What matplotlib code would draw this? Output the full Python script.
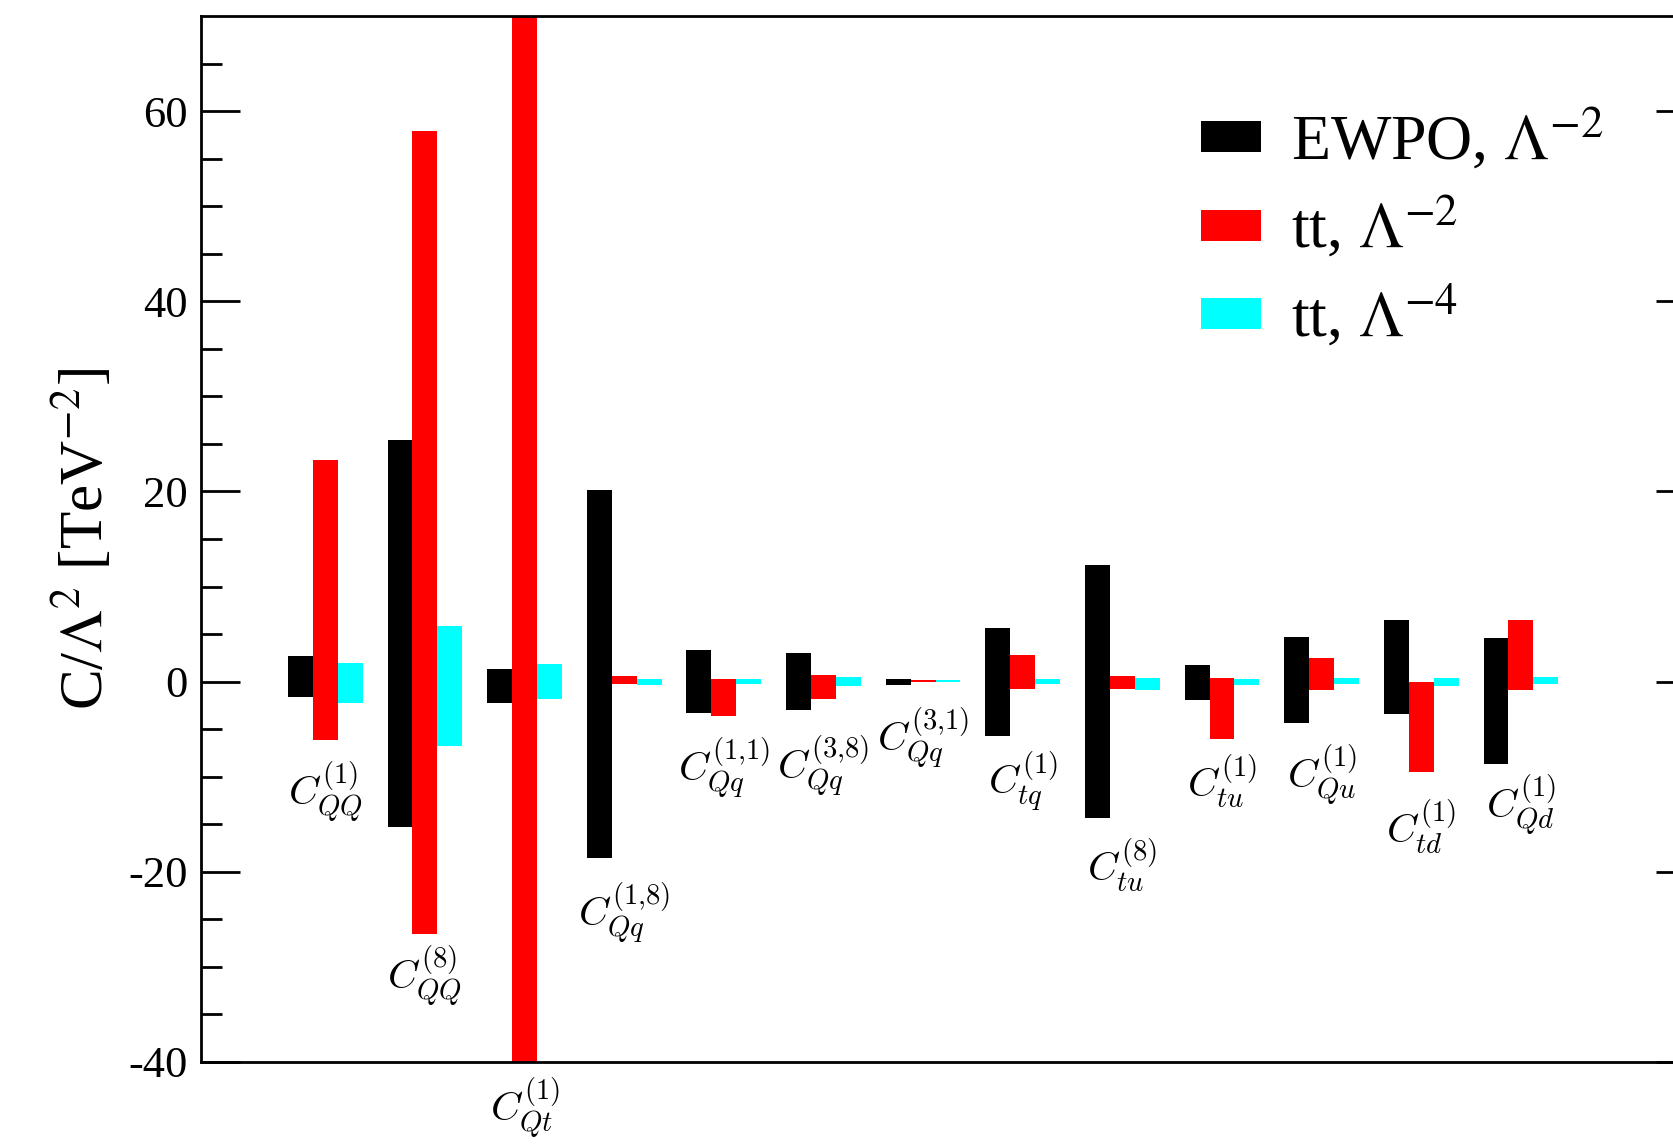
import matplotlib
matplotlib.use("Agg")
import matplotlib.pyplot as plt
import numpy as np
from matplotlib.patches import Patch

plt.rcParams['font.family'] = ['Liberation Serif', 'DejaVu Serif']
plt.rcParams['mathtext.fontset'] = 'stix'
plt.rcParams['axes.unicode_minus'] = False

# operator names (drawn in CM math)
operators = [r"C^{(1)}_{QQ}", r"C^{(8)}_{QQ}", r"C^{(1)}_{Qt}", r"C^{(1{,}8)}_{Qq}",
             r"C^{(1{,}1)}_{Qq}", r"C^{(3{,}8)}_{Qq}", r"C^{(3{,}1)}_{Qq}", r"C^{(1)}_{tq}",
             r"C^{(8)}_{tu}", r"C^{(1)}_{tu}", r"C^{(1)}_{Qu}", r"C^{(1)}_{td}",
             r"C^{(1)}_{Qd}"]

# 95% intervals, C/Lambda^2 in TeV^-2
ewpo_lo = [-1.6, -15.3, -2.2, -18.6, -3.35, -3.0, -0.33, -5.7, -14.3, -1.9, -4.4, -3.4, -8.7]
ewpo_hi = [2.7, 25.4, 1.35, 20.2, 3.35, 3.0, 0.27, 5.6, 12.3, 1.7, 4.7, 6.5, 4.6]
tt2_lo = [-6.1, -26.5, -55.0, -0.22, -3.6, -1.8, -0.08, -0.8, -0.8, -6.0, -0.9, -9.5, -0.9]
tt2_hi = [23.3, 57.9, 80.0, 0.55, 0.3, 0.65, 0.13, 2.8, 0.6, 0.4, 2.5, -0.08, 6.5]
tt4_lo = [-2.2, -6.8, -1.8, -0.33, -0.3, -0.47, -0.08, -0.2, -0.9, -0.33, -0.26, -0.44, -0.3]
tt4_hi = [2.0, 5.8, 1.9, 0.3, 0.23, 0.44, 0.13, 0.27, 0.34, 0.3, 0.34, 0.34, 0.44]

# where each operator name hangs (top edge, data units)
label_top = [-8.2, -27.6, -41.5, -21.0, -5.7, -5.5, -2.6, -7.1, -16.3, -7.5, -6.4, -12.2, -9.6]

fig = plt.figure(figsize=(16.74, 11.44), dpi=100)
ax = fig.add_axes([0.1199, 0.0717, 0.8928, 0.9143])

x = np.arange(1, len(operators) + 1)
w = 0.25
series = [(ewpo_lo, ewpo_hi, 'black', r"EWPO, $\Lambda^{-2}$"),
          (tt2_lo, tt2_hi, 'red', r"tt, $\Lambda^{-2}$"),
          (tt4_lo, tt4_hi, 'cyan', r"tt, $\Lambda^{-4}$")]
handles = []
for k, (lo, hi, col, name) in enumerate(series):
    lo = np.array(lo)
    hi = np.array(hi)
    ax.bar(x + k * w, hi - lo, bottom=lo, width=w, color=col, linewidth=0)
    handles.append(Patch(facecolor=col, label=name))

for xi, name, yt in zip(x, operators, label_top):
    ax.text(xi + w, yt, "$" + name + "$", ha='center', va='top', fontsize=29.5,
            math_fontfamily='cm', clip_on=False)

ax.set_xlim(0, 15)
ax.set_ylim(-40, 70)
ax.set_xticks([])
ax.set_yticks(np.arange(-40, 61, 20))
ax.set_yticks(np.arange(-40, 70, 5), minor=True)
ax.tick_params(axis='y', which='both', direction='in', left=True, right=True,
               width=2, labelsize=32, pad=9.5)
ax.tick_params(axis='y', which='major', length=28)
ax.tick_params(axis='y', which='minor', length=15)
for lab in ax.get_yticklabels():
    lab.set_fontfamily('Liberation Serif')
for s in ax.spines.values():
    s.set_linewidth(2)

ax.set_ylabel(r"C/$\Lambda^{2}$ [TeV$^{-2}$]", fontsize=44)
ax.yaxis.set_label_coords(-0.057, 0.5)

ax.legend(handles=handles, loc='upper left', bbox_to_anchor=(0.669, 0.913),
          frameon=False, fontsize=46, handlelength=0.94, handleheight=0.37,
          handletextpad=0.47, labelspacing=0.34, borderpad=0, borderaxespad=0)

fig.savefig("out.png", dpi=100)
